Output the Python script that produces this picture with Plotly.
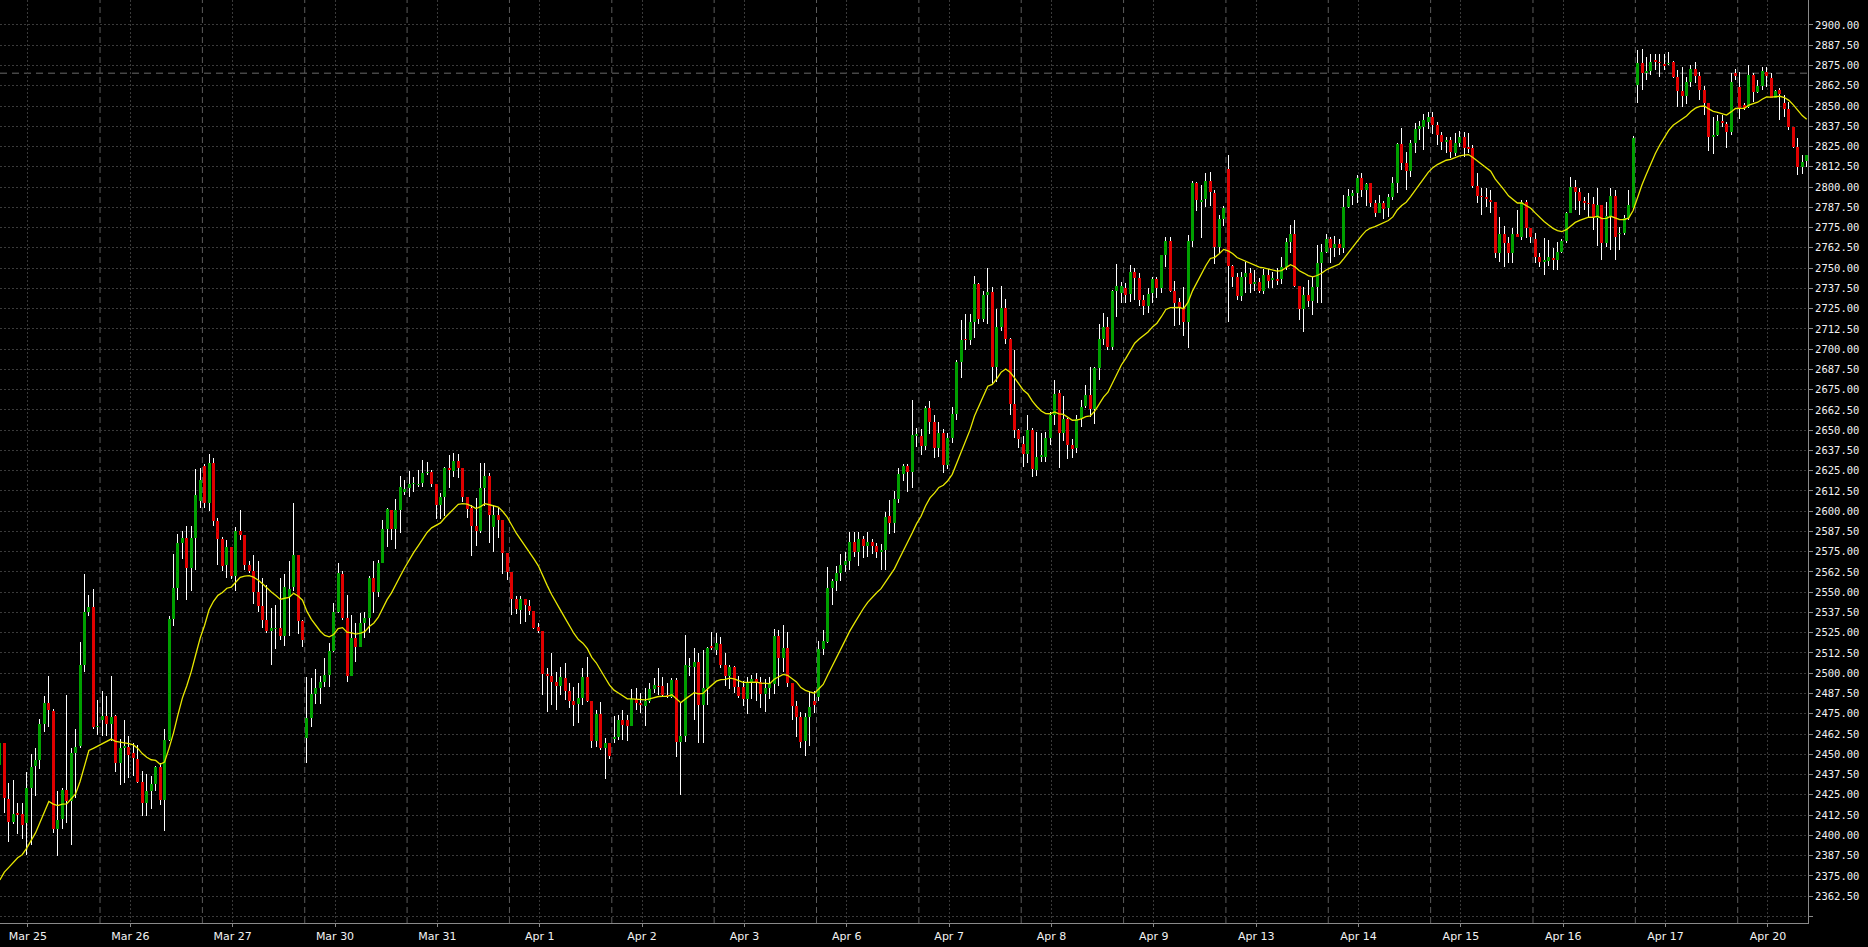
import numpy as np
import plotly.graph_objects as go

# ---------------- data (hourly candles) ----------------
day_labels = ["Mar 25", "Mar 26", "Mar 27", "Mar 30", "Mar 31", "Apr 1", "Apr 2", "Apr 3", "Apr 6",
              "Apr 7", "Apr 8", "Apr 9", "Apr 13", "Apr 14", "Apr 15", "Apr 16", "Apr 17", "Apr 20"]
bars_per_day = 23

opens = [
    2443.4, 2456.8, 2422.4, 2408.4, 2413.6, 2413.2, 2407.3, 2428.9, 2442.7, 2446.7, 2468.4, 2481.6, 2476.9, 2403.9, 2410.0, 2428.0, 2421.3, 2451.1, 2454.9, 2504.8, 2537.6, 2541.1, 2466.6,
    2471.3, 2473.8, 2468.8, 2473.4, 2444.6, 2453.6, 2454.6, 2450.6, 2446.9, 2433.1, 2420.1, 2427.1, 2431.7, 2442.0, 2421.5, 2458.9, 2533.5, 2552.6, 2580.5, 2583.6, 2564.8, 2583.6, 2606.0,
    2628.0, 2605.0, 2630.0, 2594.0, 2583.0, 2567.0, 2578.0, 2560.0, 2588.0, 2585.0, 2567.0, 2563.0, 2550.0, 2541.5, 2533.0, 2526.3, 2527.0, 2527.7, 2523.0, 2547.0, 2553.0, 2573.0, 2532.0,
    2459.8, 2472.2, 2487.2, 2490.7, 2494.6, 2498.9, 2513.9, 2538.0, 2561.5, 2534.0, 2498.5, 2521.5, 2516.0, 2530.8, 2534.0, 2559.0, 2550.4, 2567.9, 2588.8, 2600.8, 2588.8, 2600.8, 2612.1,
    2614.1, 2616.5, 2616.0, 2617.2, 2623.4, 2624.4, 2616.8, 2603.9, 2608.6, 2626.5, 2624.8, 2631.0, 2626.9, 2609.0, 2601.8, 2590.9, 2588.0, 2614.1, 2621.7, 2590.5, 2597.7, 2594.6, 2574.0,
    2562.7, 2545.9, 2539.1, 2545.9, 2541.5, 2538.7, 2528.4, 2526.1, 2499.6, 2498.3, 2494.9, 2492.4, 2497.3, 2489.3, 2483.1, 2481.1, 2484.6, 2497.9, 2483.1, 2458.4, 2474.9, 2453.7, 2457.2,
    2459.3, 2460.9, 2471.2, 2471.2, 2467.5, 2483.9, 2481.9, 2479.8, 2483.1, 2490.1, 2492.4, 2492.4, 2486.6, 2485.6, 2495.9, 2457.8, 2461.3, 2504.1, 2504.1, 2507.2, 2480.4, 2490.7, 2517.1,
    2514.4, 2518.1, 2505.1, 2498.1, 2503.6, 2491.7, 2491.3, 2483.9, 2493.8, 2496.6, 2494.9, 2487.5, 2490.7, 2493.4, 2522.7, 2509.4, 2515.3, 2493.8, 2479.6, 2473.2, 2458.4, 2473.2, 2482.8,
    2485.4, 2514.7, 2519.4, 2552.5, 2556.8, 2561.8, 2566.7, 2569.3, 2581.0, 2574.6, 2582.7, 2578.8, 2581.0, 2578.8, 2574.6, 2575.9, 2597.1, 2592.9, 2607.7, 2623.0, 2627.7, 2624.1, 2646.4,
    2646.4, 2640.0, 2663.8, 2655.3, 2639.0, 2648.5, 2628.4, 2645.4, 2660.2, 2692.1, 2706.3, 2705.5, 2716.5, 2739.9, 2718.7, 2733.6, 2735.2, 2688.9, 2713.4, 2725.5, 2706.3, 2666.0, 2650.2,
    2641.5, 2635.4, 2650.2, 2625.6, 2633.7, 2633.7, 2645.4, 2659.2, 2673.0, 2648.1, 2657.1, 2641.1, 2639.0, 2657.1, 2664.9, 2671.7, 2662.9, 2688.2, 2706.0, 2713.9, 2701.5, 2736.1, 2734.8,
    2737.9, 2734.0, 2747.8, 2743.7, 2730.3, 2726.8, 2734.4, 2743.1, 2737.5, 2758.1, 2766.9, 2736.1, 2729.3, 2725.2, 2717.0, 2766.9, 2802.3, 2791.0, 2792.4, 2803.7, 2796.5, 2763.2, 2780.1,
    2810.9, 2751.3, 2744.3, 2733.0, 2744.3, 2746.8, 2740.2, 2741.2, 2736.1, 2745.7, 2742.7, 2743.1, 2743.1, 2750.5, 2766.3, 2771.0, 2739.0, 2724.6, 2733.4, 2729.9, 2738.1, 2752.9, 2760.1,
    2767.8, 2762.2, 2765.0, 2762.2, 2787.5, 2794.5, 2796.5, 2805.4, 2798.2, 2802.3, 2790.0, 2784.2, 2790.0, 2786.9, 2793.7, 2802.3, 2826.6, 2814.6, 2810.1, 2827.4, 2835.6, 2837.3, 2840.0,
    2843.0, 2838.3, 2832.1, 2828.0, 2829.0, 2821.2, 2827.4, 2830.7, 2824.5, 2823.9, 2800.6, 2794.7, 2793.7, 2792.0, 2791.0, 2759.5, 2771.0, 2765.3, 2759.1, 2771.0, 2769.4, 2791.0, 2774.5,
    2767.7, 2757.0, 2753.9, 2754.6, 2756.0, 2755.0, 2760.1, 2766.9, 2784.2, 2800.2, 2797.1, 2791.4, 2790.0, 2789.5, 2780.7, 2788.9, 2765.7, 2782.1, 2794.5, 2771.0, 2771.8, 2780.7, 2786.9,
    2863.0, 2876.3, 2870.2, 2871.6, 2878.4, 2877.4, 2875.7, 2875.7, 2877.4, 2867.7, 2859.5, 2856.2, 2865.0, 2872.6, 2868.5, 2859.9, 2852.1, 2831.1, 2832.1, 2841.0, 2838.9, 2834.2, 2870.2,
    2861.9, 2850.5, 2849.2, 2869.1, 2858.8, 2862.3, 2871.2, 2867.1, 2854.7, 2859.9, 2852.1, 2848.0, 2836.8, 2824.5, 2812.2, 2816.3,
]
highs = [
    2460.0, 2457.0, 2432.0, 2434.0, 2420.0, 2420.0, 2439.0, 2450.0, 2454.0, 2472.0, 2486.0, 2498.5, 2478.0, 2427.6, 2429.0, 2486.7, 2454.0, 2465.3, 2519.4, 2561.0, 2548.5, 2552.0, 2483.3,
    2489.2, 2485.7, 2498.1, 2474.0, 2459.5, 2471.3, 2461.4, 2456.8, 2455.6, 2439.9, 2437.8, 2436.8, 2442.8, 2444.4, 2465.3, 2535.6, 2573.6, 2586.1, 2588.0, 2591.1, 2591.0, 2625.8, 2626.5,
    2629.0, 2635.0, 2633.0, 2596.0, 2584.0, 2582.0, 2578.0, 2590.0, 2601.0, 2585.5, 2569.0, 2573.0, 2569.5, 2559.0, 2554.5, 2540.0, 2542.0, 2559.0, 2561.0, 2569.0, 2605.0, 2573.0, 2533.0,
    2497.9, 2496.9, 2502.4, 2498.5, 2509.2, 2518.5, 2543.2, 2567.8, 2563.3, 2548.3, 2535.9, 2531.2, 2537.4, 2538.0, 2560.0, 2569.0, 2570.0, 2594.6, 2601.8, 2600.8, 2607.3, 2621.7, 2619.3,
    2624.8, 2621.3, 2625.5, 2631.6, 2630.6, 2625.4, 2616.8, 2611.0, 2627.5, 2634.7, 2635.7, 2635.3, 2626.9, 2609.0, 2603.9, 2608.0, 2629.6, 2629.6, 2623.4, 2603.9, 2601.8, 2594.6, 2574.0,
    2562.7, 2547.9, 2547.9, 2545.9, 2545.2, 2538.7, 2530.8, 2526.1, 2503.0, 2512.3, 2501.0, 2504.1, 2506.2, 2493.8, 2491.8, 2494.2, 2503.0, 2509.9, 2483.1, 2477.4, 2482.5, 2459.9, 2457.2,
    2473.7, 2474.3, 2477.4, 2474.3, 2490.1, 2490.7, 2487.6, 2490.7, 2493.8, 2496.9, 2503.1, 2497.9, 2493.8, 2496.9, 2496.9, 2481.5, 2523.6, 2509.2, 2515.4, 2512.3, 2514.4, 2516.4, 2525.7,
    2524.7, 2522.6, 2512.6, 2505.1, 2504.5, 2498.1, 2495.5, 2497.7, 2498.7, 2500.2, 2497.7, 2496.6, 2497.7, 2527.4, 2526.4, 2529.5, 2525.3, 2493.8, 2482.8, 2476.4, 2475.4, 2488.7, 2489.2,
    2520.0, 2526.4, 2565.7, 2558.2, 2566.1, 2573.7, 2574.6, 2586.9, 2587.3, 2587.3, 2584.8, 2587.3, 2582.7, 2580.5, 2579.5, 2599.2, 2607.0, 2612.4, 2626.9, 2629.4, 2629.4, 2668.7, 2651.1,
    2650.7, 2665.1, 2668.1, 2659.2, 2654.9, 2650.7, 2648.5, 2664.5, 2693.2, 2718.2, 2721.8, 2721.8, 2745.2, 2741.0, 2735.7, 2750.1, 2738.2, 2724.6, 2738.8, 2731.0, 2707.0, 2699.5, 2650.7,
    2646.4, 2659.6, 2651.1, 2648.9, 2648.5, 2648.9, 2661.3, 2680.8, 2674.5, 2670.9, 2657.5, 2644.3, 2659.2, 2668.7, 2677.9, 2688.8, 2689.2, 2715.5, 2722.1, 2720.0, 2736.5, 2752.5, 2741.6,
    2740.6, 2751.9, 2749.8, 2747.2, 2733.4, 2737.5, 2744.3, 2744.7, 2758.1, 2769.4, 2769.0, 2742.2, 2731.3, 2738.5, 2770.4, 2804.0, 2803.3, 2801.3, 2808.5, 2809.5, 2798.2, 2782.8, 2788.5,
    2819.8, 2752.0, 2747.2, 2747.8, 2753.9, 2749.8, 2748.8, 2743.7, 2749.2, 2749.2, 2747.8, 2749.8, 2757.0, 2768.4, 2776.6, 2779.7, 2739.0, 2738.5, 2742.7, 2744.7, 2764.2, 2764.9, 2771.0,
    2769.4, 2770.0, 2768.0, 2795.1, 2798.6, 2798.2, 2807.5, 2808.5, 2802.3, 2802.5, 2792.0, 2795.1, 2791.6, 2795.7, 2806.0, 2827.0, 2836.2, 2821.8, 2829.0, 2839.3, 2841.0, 2845.0, 2846.0,
    2846.0, 2840.0, 2834.2, 2831.0, 2830.7, 2833.1, 2834.8, 2834.2, 2833.1, 2826.0, 2808.5, 2799.2, 2799.2, 2798.2, 2791.0, 2781.7, 2776.0, 2769.4, 2774.5, 2785.8, 2792.0, 2792.0, 2774.5,
    2771.4, 2759.1, 2768.4, 2767.3, 2762.2, 2766.3, 2767.7, 2784.8, 2806.4, 2804.4, 2799.2, 2794.1, 2796.5, 2794.1, 2799.2, 2788.9, 2791.0, 2799.2, 2798.2, 2775.6, 2782.7, 2798.2, 2831.5,
    2884.6, 2885.0, 2880.4, 2882.1, 2882.1, 2882.1, 2882.1, 2883.5, 2878.0, 2872.2, 2874.3, 2868.1, 2875.3, 2877.4, 2871.2, 2862.3, 2852.1, 2843.0, 2844.5, 2844.5, 2840.3, 2870.2, 2872.6,
    2871.2, 2852.1, 2875.3, 2870.2, 2866.1, 2874.3, 2874.3, 2870.2, 2859.9, 2860.9, 2856.8, 2852.7, 2837.3, 2830.0, 2819.8, 2819.8,
]
lows = [
    2441.0, 2414.0, 2396.0, 2407.0, 2401.0, 2398.0, 2388.0, 2394.0, 2424.0, 2441.0, 2464.0, 2467.0, 2401.4, 2387.0, 2403.6, 2407.9, 2393.8, 2422.8, 2454.0, 2500.8, 2535.6, 2465.5, 2462.1,
    2461.5, 2461.1, 2458.0, 2438.8, 2431.3, 2432.2, 2435.3, 2436.4, 2432.0, 2412.1, 2412.1, 2416.4, 2427.1, 2418.8, 2402.4, 2458.0, 2529.4, 2545.0, 2570.7, 2545.0, 2551.0, 2563.6, 2601.8,
    2602.0, 2600.0, 2591.0, 2567.0, 2563.0, 2559.0, 2558.0, 2551.0, 2582.0, 2564.0, 2562.0, 2543.0, 2538.0, 2528.0, 2524.6, 2505.0, 2515.0, 2520.5, 2517.0, 2523.0, 2551.0, 2524.0, 2516.0,
    2444.8, 2467.0, 2481.0, 2481.0, 2491.7, 2491.7, 2513.3, 2537.0, 2532.9, 2494.8, 2498.0, 2506.8, 2516.4, 2521.6, 2525.0, 2537.4, 2547.3, 2567.9, 2577.7, 2582.3, 2576.5, 2586.4, 2610.0,
    2609.0, 2612.0, 2615.0, 2615.0, 2622.4, 2614.8, 2595.0, 2595.0, 2597.0, 2614.1, 2621.3, 2620.3, 2605.9, 2595.6, 2572.4, 2578.6, 2586.8, 2603.2, 2580.6, 2575.1, 2583.3, 2561.3, 2557.6,
    2536.0, 2536.4, 2530.2, 2531.9, 2536.0, 2527.1, 2524.7, 2486.6, 2476.3, 2480.4, 2477.4, 2486.6, 2483.5, 2478.4, 2467.5, 2469.5, 2480.4, 2482.5, 2453.7, 2454.7, 2452.7, 2434.6, 2447.0,
    2457.2, 2458.9, 2458.9, 2458.4, 2467.5, 2477.4, 2475.3, 2467.5, 2481.9, 2487.6, 2486.6, 2485.6, 2484.6, 2484.6, 2448.6, 2424.9, 2457.8, 2498.0, 2471.2, 2456.8, 2456.8, 2480.4, 2514.4,
    2511.3, 2503.1, 2492.3, 2490.2, 2488.1, 2484.9, 2479.6, 2474.7, 2483.9, 2482.8, 2478.5, 2476.4, 2483.9, 2487.0, 2492.4, 2500.9, 2491.7, 2471.1, 2460.5, 2454.1, 2449.2, 2455.2, 2475.4,
    2482.8, 2511.5, 2518.9, 2541.9, 2550.8, 2556.8, 2562.5, 2563.5, 2572.0, 2566.1, 2571.0, 2571.6, 2573.7, 2571.0, 2564.0, 2564.0, 2585.9, 2586.5, 2605.0, 2618.4, 2612.0, 2614.5, 2639.6,
    2634.7, 2637.5, 2647.5, 2632.6, 2633.7, 2623.5, 2626.2, 2641.8, 2656.0, 2682.1, 2699.5, 2702.7, 2707.0, 2715.5, 2716.5, 2715.5, 2678.3, 2679.4, 2711.2, 2703.4, 2659.2, 2645.4, 2639.0,
    2627.3, 2629.8, 2620.9, 2622.0, 2630.5, 2630.5, 2641.1, 2653.2, 2626.9, 2643.2, 2632.0, 2632.6, 2635.8, 2651.7, 2663.5, 2658.3, 2653.8, 2681.0, 2702.5, 2699.5, 2699.5, 2719.6, 2728.3,
    2728.3, 2729.3, 2730.3, 2726.6, 2721.1, 2722.5, 2728.7, 2731.3, 2734.4, 2750.9, 2735.5, 2714.3, 2714.9, 2708.1, 2700.9, 2762.8, 2785.4, 2768.4, 2787.5, 2788.3, 2752.5, 2759.1, 2776.0,
    2717.0, 2738.5, 2730.3, 2729.9, 2734.8, 2734.8, 2736.1, 2734.4, 2734.0, 2737.5, 2737.5, 2739.6, 2740.2, 2748.8, 2759.1, 2738.5, 2718.0, 2710.8, 2725.8, 2721.1, 2728.7, 2728.7, 2759.0,
    2753.0, 2757.0, 2758.0, 2759.0, 2787.0, 2789.0, 2790.4, 2794.0, 2788.3, 2787.5, 2781.3, 2783.8, 2780.1, 2781.3, 2792.0, 2796.5, 2810.5, 2798.2, 2806.4, 2820.8, 2829.0, 2823.0, 2836.0,
    2833.0, 2826.0, 2822.9, 2820.8, 2817.7, 2819.2, 2825.0, 2818.7, 2820.8, 2799.2, 2790.0, 2782.7, 2787.9, 2784.2, 2756.0, 2754.0, 2750.9, 2752.9, 2752.9, 2769.0, 2767.3, 2768.4, 2765.3,
    2752.9, 2750.5, 2745.7, 2751.3, 2748.8, 2748.8, 2759.5, 2765.3, 2783.8, 2785.8, 2782.8, 2785.8, 2781.7, 2773.5, 2763.6, 2755.0, 2763.2, 2761.2, 2755.0, 2761.2, 2770.4, 2779.7, 2785.8,
    2851.6, 2859.9, 2866.1, 2869.1, 2872.2, 2868.1, 2872.2, 2875.3, 2867.0, 2849.6, 2849.6, 2851.2, 2861.9, 2864.0, 2853.7, 2844.5, 2822.4, 2820.4, 2831.5, 2837.3, 2823.9, 2832.1, 2866.1,
    2841.8, 2847.5, 2848.6, 2852.7, 2857.8, 2859.9, 2861.9, 2854.7, 2854.7, 2841.4, 2843.0, 2835.2, 2823.9, 2807.4, 2808.0, 2812.6,
]
closes = [
    2456.8, 2422.8, 2408.4, 2413.2, 2412.6, 2406.2, 2428.9, 2442.3, 2446.4, 2468.4, 2481.6, 2477.5, 2403.9, 2409.5, 2428.0, 2421.3, 2451.0, 2454.4, 2504.8, 2537.6, 2541.1, 2466.6, 2467.6,
    2473.8, 2468.8, 2473.0, 2444.6, 2453.6, 2455.4, 2449.8, 2447.5, 2433.1, 2420.1, 2427.1, 2431.7, 2442.0, 2421.5, 2458.9, 2533.5, 2552.6, 2580.5, 2583.6, 2564.8, 2583.6, 2610.0, 2619.3,
    2605.0, 2630.0, 2594.0, 2583.0, 2566.0, 2578.0, 2560.0, 2588.0, 2585.0, 2567.0, 2563.0, 2550.0, 2541.5, 2533.0, 2526.0, 2527.7, 2527.5, 2523.0, 2553.0, 2552.0, 2573.0, 2532.0, 2520.5,
    2472.2, 2487.2, 2490.7, 2494.6, 2498.9, 2513.9, 2538.0, 2561.7, 2534.0, 2498.5, 2521.5, 2516.0, 2530.8, 2534.0, 2559.0, 2550.4, 2567.9, 2588.8, 2601.2, 2588.8, 2600.8, 2614.8, 2613.5,
    2616.6, 2616.7, 2617.0, 2623.8, 2624.4, 2616.8, 2603.9, 2608.6, 2626.5, 2625.5, 2631.0, 2626.9, 2609.0, 2601.2, 2590.9, 2588.0, 2614.1, 2621.7, 2597.7, 2597.7, 2594.6, 2574.0, 2562.7,
    2545.9, 2539.5, 2545.9, 2542.2, 2538.7, 2528.2, 2526.1, 2499.6, 2498.3, 2494.9, 2492.4, 2497.5, 2489.3, 2483.1, 2480.4, 2484.6, 2497.9, 2483.1, 2458.4, 2474.9, 2453.7, 2457.2, 2449.0,
    2460.5, 2471.2, 2468.1, 2467.5, 2483.9, 2481.9, 2480.4, 2483.1, 2490.1, 2492.8, 2491.8, 2486.6, 2486.0, 2495.9, 2457.8, 2461.3, 2505.1, 2504.3, 2507.2, 2480.4, 2490.7, 2515.4, 2515.8,
    2518.5, 2505.1, 2498.1, 2503.6, 2491.7, 2486.0, 2483.9, 2493.8, 2496.6, 2494.9, 2487.5, 2490.7, 2493.4, 2522.7, 2509.4, 2515.3, 2493.8, 2479.6, 2473.2, 2457.7, 2473.2, 2479.0, 2480.7,
    2514.7, 2520.0, 2552.5, 2556.8, 2561.8, 2566.7, 2569.3, 2581.0, 2574.6, 2582.7, 2578.8, 2581.0, 2578.8, 2574.6, 2575.9, 2596.5, 2592.9, 2607.7, 2623.0, 2627.7, 2624.1, 2646.8, 2647.5,
    2640.0, 2663.8, 2655.3, 2639.0, 2648.5, 2628.4, 2645.4, 2660.2, 2692.1, 2705.9, 2705.5, 2716.5, 2739.9, 2718.7, 2733.6, 2735.2, 2688.9, 2713.4, 2725.5, 2706.3, 2666.0, 2650.2, 2644.7,
    2635.5, 2650.2, 2626.2, 2633.7, 2634.7, 2645.4, 2659.2, 2672.3, 2648.1, 2657.1, 2641.1, 2638.3, 2657.1, 2664.5, 2671.7, 2662.9, 2688.2, 2706.0, 2713.9, 2701.5, 2736.1, 2739.2, 2739.2,
    2733.4, 2747.8, 2743.7, 2730.3, 2726.8, 2734.0, 2743.1, 2737.5, 2758.1, 2766.9, 2736.1, 2728.7, 2725.2, 2717.0, 2766.9, 2802.3, 2792.0, 2792.0, 2803.7, 2797.2, 2763.2, 2780.1, 2786.9,
    2751.3, 2744.3, 2733.0, 2744.3, 2746.8, 2740.2, 2741.6, 2736.1, 2745.7, 2742.2, 2743.7, 2742.2, 2750.5, 2766.3, 2771.0, 2739.0, 2724.6, 2733.4, 2729.9, 2738.1, 2752.9, 2760.1, 2767.8,
    2762.2, 2765.0, 2762.2, 2787.5, 2794.5, 2796.5, 2805.4, 2798.2, 2801.9, 2790.0, 2784.2, 2790.0, 2786.3, 2793.7, 2802.3, 2826.6, 2814.6, 2810.1, 2827.4, 2835.6, 2837.7, 2841.4, 2843.0,
    2838.3, 2832.1, 2828.0, 2829.0, 2821.8, 2827.4, 2830.7, 2823.9, 2823.5, 2800.6, 2794.7, 2793.7, 2792.4, 2791.0, 2759.5, 2771.0, 2765.3, 2759.1, 2771.0, 2769.4, 2791.0, 2774.5, 2769.4,
    2757.0, 2753.9, 2755.0, 2756.6, 2755.0, 2760.1, 2766.9, 2784.2, 2800.2, 2797.1, 2791.6, 2790.4, 2789.5, 2780.7, 2788.9, 2765.7, 2782.1, 2794.5, 2769.4, 2771.8, 2780.7, 2788.9, 2830.1,
    2876.3, 2870.2, 2871.6, 2877.4, 2877.4, 2876.3, 2874.7, 2876.3, 2867.7, 2859.5, 2856.2, 2865.0, 2872.6, 2868.5, 2859.9, 2852.1, 2831.1, 2832.1, 2841.0, 2839.3, 2834.2, 2865.0, 2868.5,
    2848.6, 2849.0, 2869.1, 2858.8, 2862.3, 2871.8, 2868.5, 2854.7, 2859.5, 2857.4, 2848.0, 2836.8, 2824.5, 2812.2, 2815.7, 2819.8,
]

ma_period = 20          # moving average drawn in yellow (exponential)
ma_start = 2363.6       # MA value just before the first visible bar
ref_level = 2870.25     # dashed horizontal level line
price_min, price_max, price_step = 2350.0, 2900.0, 12.5

assert len(opens) == len(highs) == len(lows) == len(closes), (len(opens), len(highs), len(lows), len(closes))

# ---------------- derived ----------------
o = np.array(opens); h = np.array(highs); l = np.array(lows); c = np.array(closes)
n = len(c)
idx = np.arange(n)
up = c >= o

alpha = 2.0 / (ma_period + 1)
ema = []
prev = ma_start
for v in c:
    prev = prev + alpha * (v - prev)
    ema.append(prev)

# nearly-opaque colours make plotly snap bar edges to whole pixels (crisp 1px wicks, 3px bodies)
GREEN = "rgba(0,160,0,0.999)"
RED = "rgba(224,0,0,0.999)"
WICK = "rgba(255,255,255,0.999)"
GRID = "#3a3a3a"
SEP = "#5c5c5c"
FRAME = "#8a8a8a"
TXT = "#f2f2f2"

PLOT_W, PLOT_H = 1808, 923
x_range = [0.0225, 406.3]
y_range = [2345.9, 2915.4]
px_x = PLOT_W / (x_range[1] - x_range[0])          # pixels per bar slot
px_y = PLOT_H / (y_range[1] - y_range[0])          # pixels per price unit
wick_w = 1.0 / px_x
body_w = 3.0 / px_x
body_h = np.maximum(np.abs(c - o), 1.0 / px_y)

fig = go.Figure()
fig.add_trace(go.Bar(x=idx, y=h - l, base=l, width=wick_w,
                     marker=dict(color=WICK, line=dict(width=0)), hoverinfo="skip"))
fig.add_trace(go.Bar(x=idx, y=body_h, base=np.minimum(o, c), width=body_w,
                     marker=dict(color=[GREEN if u else RED for u in up], line=dict(width=0)),
                     hoverinfo="skip"))
fig.add_trace(go.Scatter(x=idx, y=ema, mode="lines",
                         line=dict(color="#e8e800", width=1.3), hoverinfo="skip"))

n_days = len(day_labels)
tick_x = [d * bars_per_day + 6.3 for d in range(n_days)]
shapes = []
for d in range(1, n_days):
    xs = d * bars_per_day - 0.5
    shapes.append(dict(type="line", xref="x", yref="paper", x0=xs, x1=xs, y0=0, y1=1,
                       line=dict(color=SEP, width=1, dash="6px,4px"), layer="below"))
shapes.append(dict(type="line", xref="paper", yref="y", x0=0, x1=1, y0=ref_level, y1=ref_level,
                   line=dict(color="#6a6a6a", width=1, dash="7px,5px"), layer="below"))

yt = np.arange(price_min, price_max + 0.01, price_step)
ytext = ["" if v < 2360 else f"{v:.2f}" for v in yt]

fig.update_layout(
    width=1868, height=947,
    margin=dict(l=0, r=1868 - PLOT_W, t=0, b=947 - PLOT_H),
    paper_bgcolor="#000000", plot_bgcolor="#000000",
    barmode="overlay", bargap=0, bargroupgap=0, showlegend=False,
    shapes=shapes,
    xaxis=dict(range=x_range, tickmode="array", tickvals=tick_x, ticktext=day_labels,
               showgrid=True, gridcolor=GRID, gridwidth=1, griddash="2px,2px",
               ticks="outside", ticklen=3, tickcolor=FRAME,
               showline=True, linecolor=FRAME, linewidth=1, mirror=True, zeroline=False,
               tickfont=dict(family="DejaVu Sans", size=11, color=TXT)),
    yaxis=dict(side="right", range=y_range, tickmode="array", tickvals=yt, ticktext=ytext,
               showgrid=True, gridcolor=GRID, gridwidth=1, griddash="2px,2px",
               ticks="outside", ticklen=4, tickcolor=FRAME,
               showline=True, linecolor=FRAME, linewidth=1, mirror=True, zeroline=False,
               tickfont=dict(family="DejaVu Sans Mono", size=10.5, color=TXT)),
)

fig.write_html("out.html", config={"displayModeBar": False},
               post_script="document.body.style.margin='0';document.body.style.background='#000';")
